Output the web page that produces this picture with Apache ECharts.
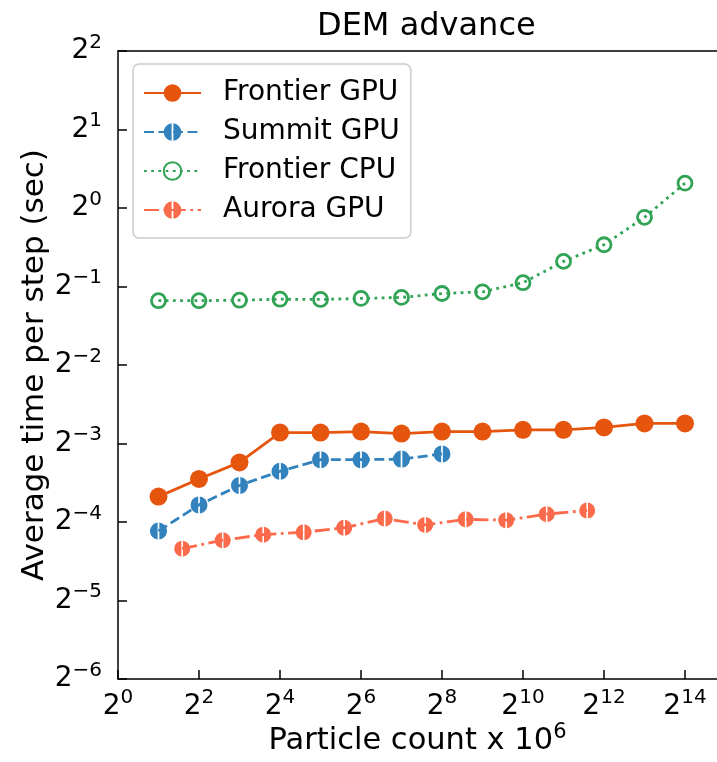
<!DOCTYPE html>
<html>
<head>
<meta charset="utf-8">
<title>DEM advance</title>
<script src="https://cdn.jsdelivr.net/npm/echarts@6/dist/echarts.min.js"></script>
<style>
  html, body { margin: 0; padding: 0; background: #fff; }
  #chart { width: 717px; height: 762px; }
</style>
</head>
<body>
<div id="chart"></div>
<script>
// Particle counts (millions) for each machine
const particlesFrontier = [2, 4, 8, 16, 32, 64, 128, 256, 512, 1024, 2048, 4096, 8192, 16384];
const particlesSummit = [2, 4, 8, 16, 32, 64, 128, 256];
const particlesAurora = [3, 6, 12, 24, 48, 96, 192, 384, 768, 1536, 3072];

// Average time per step (seconds)
const frontierGPU = [0.0782, 0.0914, 0.1058, 0.1377, 0.1377, 0.1389, 0.1365, 0.1389, 0.1389, 0.1410, 0.1410, 0.1440, 0.1493, 0.1493];
const summitGPU = [0.0577, 0.0727, 0.0863, 0.0978, 0.1084, 0.1084, 0.1089, 0.1140];
const frontierCPU = [0.441, 0.441, 0.443, 0.447, 0.446, 0.450, 0.454, 0.470, 0.477, 0.517, 0.624, 0.723, 0.921, 1.245];
const auroraGPU = [0.0494, 0.0532, 0.0559, 0.0571, 0.0594, 0.0644, 0.0609, 0.0640, 0.0635, 0.0670, 0.0692];

const seriesNames = ['Frontier GPU', 'Summit GPU', 'Frontier CPU', 'Aurora GPU'];

const FONT = 'DejaVu Sans';
const X_MIN = 1;
const X_MAX = Math.pow(2, 14.79);

// circle split by a thin vertical gap (half-filled style marker)
const splitDisk = 'path://M-1 -9.95A10 10 0 0 0 -1 9.95Z M1 -9.95A10 10 0 0 1 1 9.95Z';

function pairs(xs, ys) {
  return xs.map((x, i) => [x, ys[i]]);
}

function pow2Label(v) {
  const e = Math.round(Math.log2(v));
  const exp = e < 0 ? '\u2212' + (-e) : String(e);
  return '{b|2}{s|' + exp + '}';
}

const tickRich = {
  b: { fontSize: 28, fontFamily: FONT, color: '#000' },
  s: { fontSize: 20, fontFamily: FONT, color: '#000', padding: [0, 0, 17, 0] }
};

const axisLineStyle = { lineStyle: { color: '#000', width: 1.5 } };

const chart = echarts.init(document.getElementById('chart'), null, { renderer: 'canvas' });

chart.setOption({
  animation: false,
  backgroundColor: '#fff',
  title: {
    text: 'DEM advance',
    left: 312,
    top: 6,
    textStyle: { fontFamily: FONT, fontSize: 32, fontWeight: 'normal', color: '#000' }
  },
  legend: {
    data: seriesNames,
    orient: 'vertical',
    left: 133,
    top: 64,
    padding: [15, 11, 14, 10],
    itemWidth: 57,
    itemHeight: 22,
    itemGap: 11,
    backgroundColor: 'rgba(255,255,255,0.8)',
    borderColor: '#cccccc',
    borderWidth: 1.5,
    borderRadius: 6,
    textStyle: { fontFamily: FONT, fontSize: 28, color: '#000', padding: [0, 0, 0, 17] }
  },
  grid: {
    left: 118,
    top: 51,
    right: -6,
    bottom: 79
  },
  xAxis: [
    {
      type: 'log',
      logBase: 2,
      min: X_MIN,
      max: X_MAX,
      interval: 2,
      splitLine: { show: false },
      axisLine: axisLineStyle,
      axisTick: { inside: true, length: 9, lineStyle: { color: '#000', width: 1.5 } },
      axisLabel: {
        margin: 9,
        showMaxLabel: false,
        formatter: pow2Label,
        rich: tickRich
      },
      name: 'Particle count x 10{s|6}',
      nameLocation: 'middle',
      nameGap: 43,
      nameMoveOverlap: false,
      nameTextStyle: {
        fontFamily: FONT, fontSize: 30.5, color: '#000',
        rich: { s: { fontSize: 21, fontFamily: FONT, color: '#000', padding: [0, 0, 18, 0] } }
      }
    },
    {
      // top frame line
      type: 'log',
      logBase: 2,
      position: 'top',
      min: X_MIN,
      max: X_MAX,
      axisLine: axisLineStyle,
      axisTick: { show: false },
      axisLabel: { show: false },
      splitLine: { show: false }
    }
  ],
  yAxis: {
    type: 'log',
    logBase: 2,
    min: Math.pow(2, -6),
    max: 4,
    interval: 1,
    splitLine: { show: false },
    axisLine: axisLineStyle,
    axisTick: { inside: true, length: 9, lineStyle: { color: '#000', width: 1.5 } },
    axisLabel: {
      margin: 16,
      formatter: pow2Label,
      rich: tickRich
    },
    name: 'Average time per step (sec)',
    nameLocation: 'middle',
    nameGap: 68,
    nameMoveOverlap: false,
    nameTextStyle: { fontFamily: FONT, fontSize: 31, color: '#000' }
  },
  series: [
    {
      name: 'Frontier GPU',
      type: 'line',
      data: pairs(particlesFrontier, frontierGPU),
      symbol: 'circle',
      symbolSize: 18,
      itemStyle: { color: '#e6550d' },
      lineStyle: { color: '#e6550d', width: 2.8 },
      z: 4
    },
    {
      name: 'Summit GPU',
      type: 'line',
      data: pairs(particlesSummit, summitGPU),
      symbol: splitDisk,
      symbolSize: 17,
      itemStyle: { color: '#3182bd' },
      lineStyle: { color: '#3182bd', width: 2.8, type: [10, 4.5] },
      z: 3
    },
    {
      name: 'Frontier CPU',
      type: 'line',
      data: pairs(particlesFrontier, frontierCPU),
      symbol: 'circle',
      symbolSize: 14,
      itemStyle: { color: 'rgba(255,255,255,0)', borderColor: '#31a354', borderWidth: 2.8 },
      lineStyle: { color: '#31a354', width: 2.8, type: [2.8, 4.4] },
      z: 2
    },
    {
      name: 'Aurora GPU',
      type: 'line',
      data: pairs(particlesAurora, auroraGPU),
      symbol: splitDisk,
      symbolSize: 16,
      itemStyle: { color: '#fb6a4a' },
      lineStyle: { color: '#fb6a4a', width: 2.8, type: [15, 4.5, 2.8, 4.5] },
      z: 2
    }
  ]
});
</script>
</body>
</html>
